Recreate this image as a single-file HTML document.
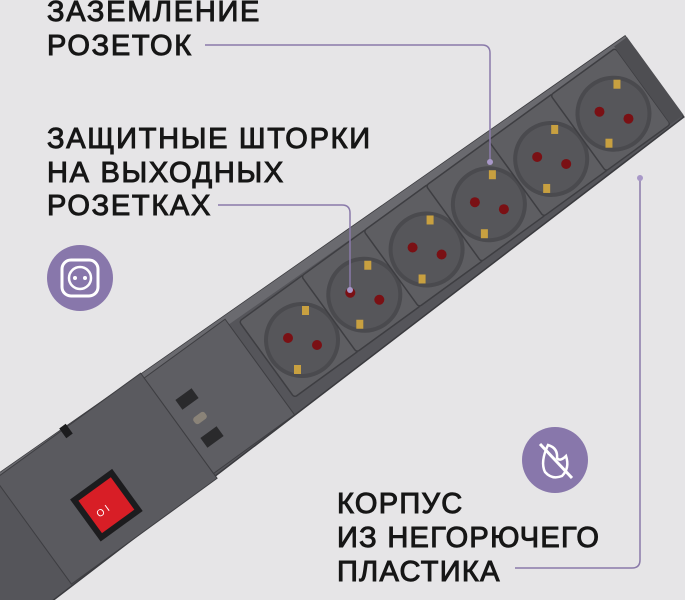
<!DOCTYPE html>
<html><head><meta charset="utf-8"><style>
html,body{margin:0;padding:0;background:#e6e5e7;width:685px;height:600px;overflow:hidden}
svg{display:block}
.t{font-family:"Liberation Sans","DejaVu Sans",sans-serif;fill:#161616;font-size:29px;letter-spacing:1.7px;stroke:#161616;stroke-width:1px}
.b{letter-spacing:1.3px}
</style></head><body>
<svg width="685" height="600" viewBox="0 0 685 600" xmlns="http://www.w3.org/2000/svg">
<defs>
<g id="sock">
 <rect x="-40" y="-52" width="80" height="94" rx="3" fill="#5e5e62" stroke="#3e3e42" stroke-width="1.5"/>
 <circle r="38" fill="#4a4a4e"/>
 <circle r="34" fill="#56565a"/>
 <g transform="rotate(36)">
  <circle cx="-14" cy="-2" r="5" fill="#7a1014"/>
  <circle cx="15" cy="5" r="5" fill="#7a1014"/>
  <rect x="0" y="-34" width="7" height="9" fill="#c8a040"/>
  <rect x="-8" y="25" width="7" height="9" fill="#c8a040"/>
 </g>
</g>
</defs>
<rect width="685" height="600" fill="#e6e5e7"/>

<!-- cord -->
<path d="M0,565 L40,550 L60,590 L40,600 L0,600Z" fill="#1e1e20"/>

<g transform="translate(302,340) rotate(-36)">
 <polygon points="-420,-72 440,-56 440,44 -420,66" fill="#55555a" stroke="#3a3a3e" stroke-width="1.5"/>
 <polygon points="-420,-72 440,-56 440,-47 -420,-62" fill="#6a6a6f"/>
 <rect x="-330" y="-68" width="180" height="130" fill="#5a5a5f" stroke="#3e3e42"/>
 <rect x="-150" y="-62" width="100" height="118" fill="#5e5e63" stroke="#3e3e42"/>
 <use href="#sock" x="0"/>
 <use href="#sock" x="77"/>
 <use href="#sock" x="154"/>
 <use href="#sock" x="231"/>
 <use href="#sock" x="308"/>
 <use href="#sock" x="385"/>
 <rect x="425" y="-54" width="16" height="96" fill="#4e4e52"/>
</g>

<rect x="177" y="393" width="20" height="12" fill="#2a2a2c" transform="rotate(-36 187 399)"/>
<rect x="193" y="414" width="14" height="8" rx="3" fill="#8a8378" transform="rotate(-36 200 418)"/>
<rect x="202" y="431" width="20" height="12" fill="#2a2a2c" transform="rotate(-36 212 437)"/>
<g transform="rotate(-36 105 505)">
 <rect x="80" y="480" width="52" height="52" fill="#1c1c1e"/>
 <rect x="86" y="486" width="40" height="40" fill="#d81e26"/>
 <text x="93" y="512" font-size="10" fill="#fff" font-family="Liberation Sans,sans-serif">O  I</text>
</g>
<rect x="62" y="425" width="8" height="12" fill="#1c1c1e" transform="rotate(-36 66 431)"/>

<g fill="none" stroke="#8a7aaa" stroke-width="1.5">
 <path d="M205,45 H482 Q490,45 490,53 V162"/>
 <path d="M218,205 H342 Q350,205 350,213 V290"/>
 <path d="M640,178 V560 Q640,568 632,568 H515"/>
</g>
<circle cx="490" cy="162" r="3" fill="#a898c8"/>
<circle cx="350" cy="290" r="3" fill="#a898c8"/>
<circle cx="640" cy="178" r="3" fill="#a898c8"/>

<circle cx="80" cy="278" r="33" fill="#8877ab"/>
<rect x="62" y="260" width="36" height="36" rx="9" fill="none" stroke="#fff" stroke-width="3"/>
<circle cx="80" cy="278" r="11" fill="none" stroke="#fff" stroke-width="2.5"/>
<circle cx="75" cy="278" r="2" fill="#fff"/><circle cx="85" cy="278" r="2" fill="#fff"/>
<circle cx="555" cy="460" r="33" fill="#8877ab"/>
<path d="M548,445 Q540,462 545,472 Q552,480 562,476 Q570,468 566,456 Q560,462 557,458 Q558,448 548,445Z" fill="none" stroke="#fff" stroke-width="2.5"/>
<line x1="540" y1="444" x2="572" y2="478" stroke="#fff" stroke-width="3"/>

<text class="t" x="47" y="21">ЗАЗЕМЛЕНИЕ</text>
<text class="t" x="47" y="55">РОЗЕТОК</text>
<text class="t" x="47" y="148">ЗАЩИТНЫЕ ШТОРКИ</text>
<text class="t" x="47" y="182">НА ВЫХОДНЫХ</text>
<text class="t" x="47" y="215">РОЗЕТКАХ</text>
<text class="t b" x="337" y="513">КОРПУС</text>
<text class="t b" x="337" y="547">ИЗ НЕГОРЮЧЕГО</text>
<text class="t b" x="337" y="581">ПЛАСТИКА</text>
</svg>
</body></html>
